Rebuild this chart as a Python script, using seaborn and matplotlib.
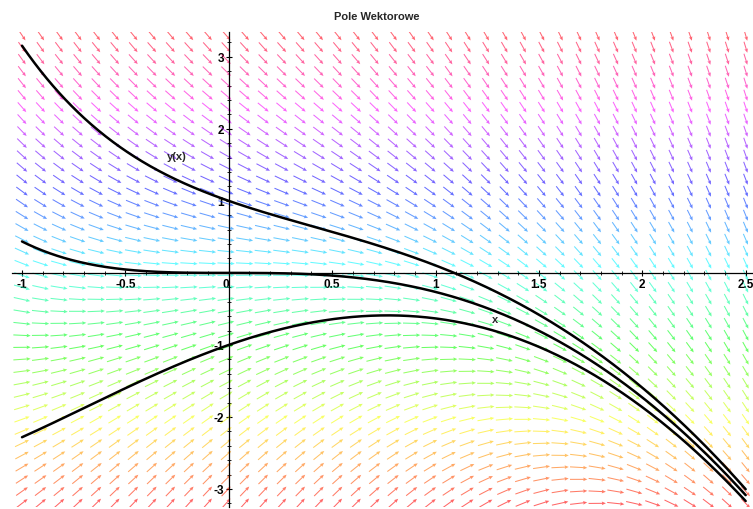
import numpy as np
import pandas as pd
import matplotlib
matplotlib.use("Agg")
import matplotlib.pyplot as plt
import seaborn as sns
from matplotlib.ticker import MultipleLocator

COEF_Y = -1.0
COEF_X2 = -1.0
X_START = 0.0
INITIAL_Y = [1.0, 0.0, -1.0]

X_RANGE = [-1.0, 2.5]
Y_RANGE = [-3.2, 3.3]
GRID_N = [40, 40]

X_TICKS = [-1, -0.5, 0, 0.5, 1, 1.5, 2, 2.5]
X_TICK_LABELS = ["-1", "-0.5", "0", "0.5", "1", "1.5", "2", "2.5"]
Y_TICKS = [-3, -2, -1, 1, 2, 3]
Y_TICK_LABELS = ["-3", "-2", "-1", "1", "2", "3"]

TITLE = "Pole Wektorowe"
AXIS_TEXT = ["y(x)", "x"]
AXIS_TEXT_X = [-0.25, 1.29]
AXIS_TEXT_Y = [1.63, -0.64]


def slope(x, y):
    return COEF_Y * y + COEF_X2 * x ** 2


def solve(y0, x_end, h=0.005):
    xs, ys = [X_START], [y0]
    n = int(round(abs(x_end - X_START) / h))
    step = (x_end - X_START) / n
    x, y = X_START, y0
    for _ in range(n):
        k1 = slope(x, y)
        k2 = slope(x + step / 2, y + step * k1 / 2)
        k3 = slope(x + step / 2, y + step * k2 / 2)
        k4 = slope(x + step, y + step * k3)
        y = y + step * (k1 + 2 * k2 + 2 * k3 + k4) / 6
        x = x + step
        xs.append(x)
        ys.append(y)
    return xs, ys


def main():
    sns.set_theme(style="white")
    plt.rcParams["font.family"] = ["Liberation Sans", "DejaVu Sans"]

    fig = plt.figure(figsize=(7.53, 5.10), dpi=100)
    ax = fig.add_axes([0.0155, 0.004, 0.983, 0.932])

    # direction field, arrows of fixed length in range-normalized coords
    gx = np.linspace(X_RANGE[0], X_RANGE[1], GRID_N[0])
    gy = np.linspace(Y_RANGE[0], Y_RANGE[1], GRID_N[1])
    X, Y = np.meshgrid(gx, gy)
    wx = X_RANGE[1] - X_RANGE[0]
    wy = Y_RANGE[1] - Y_RANGE[0]
    du = np.ones_like(X) / wx
    dv = slope(X, Y) / wy
    norm = np.hypot(du, dv)
    L = 0.024
    U = du / norm * L * wx
    V = dv / norm * L * wy
    C = (Y - Y_RANGE[0]) / wy
    ax.quiver(X, Y, U, V, C, cmap="hsv", clim=(0, 1), angles="xy",
              scale_units="xy", scale=1, pivot="mid", width=0.0014,
              headwidth=3.5, headlength=4, headaxislength=3.5, alpha=0.6,
              zorder=1)

    # solution curves
    rows = []
    for i, y0 in enumerate(INITIAL_Y):
        xl, yl = solve(y0, X_RANGE[0])
        xr, yr = solve(y0, X_RANGE[1])
        xs = xl[::-1] + xr[1:]
        ys = yl[::-1] + yr[1:]
        rows.append(pd.DataFrame({"x": xs, "y": ys, "curve": i}))
    curves = pd.concat(rows, ignore_index=True)
    sns.lineplot(data=curves, x="x", y="y", units="curve", estimator=None,
                 sort=False, color="black", linewidth=1.8, ax=ax, zorder=3,
                 legend=False)

    ax.set_xlim(-1.05, 2.53)
    ax.set_ylim(-3.25, 3.35)
    ax.set_xlabel("")
    ax.set_ylabel("")

    # Maple-style axes through the origin
    for side in ["top", "right"]:
        ax.spines[side].set_visible(False)
    ax.spines["left"].set_position(("data", 0))
    ax.spines["bottom"].set_position(("data", 0))
    for side in ["left", "bottom"]:
        ax.spines[side].set_color("black")
        ax.spines[side].set_linewidth(0.9)
        ax.spines[side].set_zorder(2)

    ax.set_xticks(X_TICKS)
    ax.set_xticklabels(X_TICK_LABELS)
    ax.set_yticks(Y_TICKS)
    ax.set_yticklabels(Y_TICK_LABELS)
    ax.xaxis.set_minor_locator(MultipleLocator(0.1))
    ax.yaxis.set_minor_locator(MultipleLocator(0.2))
    ax.tick_params(which="major", direction="inout", length=5, width=0.8,
                   colors="black", labelsize=8.5, pad=1, bottom=True, left=True)
    ax.tick_params(which="minor", direction="inout", length=3, width=0.6,
                   colors="black", bottom=True, left=True)
    for lab in ax.get_xticklabels() + ax.get_yticklabels():
        lab.set_fontweight("bold")
    for lab in ax.get_xticklabels():
        if lab.get_text() == "0":
            lab.set_horizontalalignment("right")
    ax.grid(False)
    ax.set_facecolor("white")

    for t, tx, ty in zip(AXIS_TEXT, AXIS_TEXT_X, AXIS_TEXT_Y):
        ax.text(tx, ty, t, fontsize=8, fontweight="bold", ha="center",
                va="center", zorder=4)

    fig.text(0.5, 0.966, TITLE, fontsize=8, fontweight="bold", ha="center",
             va="center")

    fig.savefig("out.png", dpi=100, facecolor="white")
    plt.close(fig)


if __name__ == "__main__":
    main()
